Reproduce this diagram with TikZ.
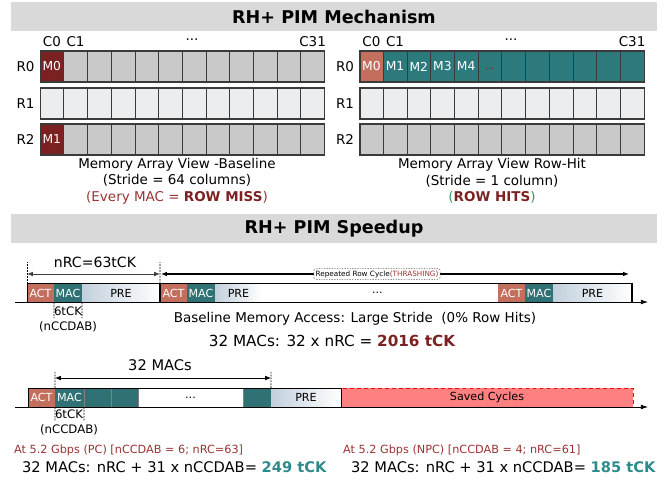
\documentclass[tikz,border=0pt]{standalone}
\usepackage{fontspec}
\setmainfont{DejaVu Sans}
\usepackage{xcolor}
\usetikzlibrary{arrows.meta, positioning, calc}
\definecolor{titlegray}{HTML}{D9D9D9}
\definecolor{cellgray}{HTML}{C9C9C9}
\definecolor{celllight}{HTML}{ECEDEF}
\definecolor{cellline}{HTML}{3A3A3A}
\definecolor{missred}{HTML}{7B2121}
\definecolor{txtred}{HTML}{9A3333}
\definecolor{actred}{HTML}{C46F5E}
\definecolor{arrteal}{HTML}{2D7A7D}
\definecolor{macteal}{HTML}{2F7175}
\definecolor{preblue}{HTML}{C2D0DD}
\definecolor{savedred}{HTML}{FF8080}
\definecolor{hitteal}{HTML}{2E8B8B}
\definecolor{hitgreen}{HTML}{3A9A5A}

\begin{document}
\begin{tikzpicture}[x=0.03cm, y=-0.03cm,
    titlebar/.style={fill=titlegray, minimum width=19.38cm, minimum height=0.87cm, inner sep=0pt, font=\fontsize{15}{17}\selectfont\bfseries},
    cell/.style={draw=cellline, line width=0.5pt, minimum width=0.711cm, minimum height=0.93cm, inner sep=0pt, font=\fontsize{10.5}{12}\selectfont, text=white},
    rowbox/.style={draw=cellline, line width=1.1pt, minimum width=8.532cm, minimum height=0.93cm, inner sep=0pt},
    hdr/.style={font=\fontsize{11.5}{13}\selectfont},
    caption/.style={font=\fontsize{11.5}{14}\selectfont, align=center},
    seg/.style={minimum height=0.57cm, inner sep=0pt, outer sep=0pt, anchor=west, font=\fontsize{9.5}{11}\selectfont},
    act/.style={seg, fill=actred, text=white, minimum width=0.81cm},
    mac/.style={seg, fill=macteal, text=white},
    pre/.style={seg, left color=preblue, right color=white},
    guide/.style={dash pattern=on 1.5pt off 1pt, line width=0.5pt},
    dim/.style={{Latex[length=5pt,width=4pt]}-{Latex[length=5pt,width=4pt]}, line width=0.7pt},
    note/.style={font=\fontsize{10}{12}\selectfont},
]
\useasboundingbox (0,0) rectangle (672,481);

% Mechanism
\node[titlebar] (mechbar) at (334,16.5) {RH+ PIM Mechanism};

% Left array - baseline
\foreach \r/\y/\fc in {0/66.5/cellgray, 1/103.5/celllight, 2/139.5/cellgray} {
    \foreach \c in {0,...,11}
        \node[cell, fill=\fc] (L\r-\c) at ({40+23.7*(\c+0.5)}, \y) {};
    \node[hdr] (lr\r) at (25.5, \y) {R\r};
}
\node[cell, fill=missred] (lm0) at (L0-0) {M0};
\node[cell, fill=missred] (lm1) at (L2-0) {M1};
\foreach \r in {0,1,2}
    \node[rowbox] (LR\r) at (L\r-0.west) [anchor=west] {};
\node[hdr] (lc0) at (L0-0 |- 0,42) {C0};
\node[hdr] (lc1) at (L0-1 |- 0,42) {C1};
\node[hdr] (lcdots) at (192,40) {...};
\node[hdr] (lc31) at (L0-11 |- 0,42) {C31};
\node[caption] (capL) at (177,181) {Memory Array View -Baseline\\(Stride = 64 columns)\\\textcolor{txtred}{(Every MAC = \textbf{\textcolor{missred}{ROW MISS}})}};

% Right array - row hit
\foreach \r/\y/\fc in {0/66.5/arrteal, 1/103.5/celllight, 2/139.5/cellgray} {
    \foreach \c in {0,...,11}
        \node[cell, fill=\fc] (R\r-\c) at ({359.5+23.7*(\c+0.5)}, \y) {};
    \node[hdr] (rr\r) at (345, \y) {R\r};
}
\node[cell, fill=actred] (rm0) at (R0-0) {M0};
\foreach \c in {1,...,4}
    \node[cell, draw=none] (rm\c) at (R0-\c) {M\c};
\node[font=\fontsize{8}{9}\selectfont, text=red!75!black] (rmdots) at ($(R0-5)+(0,2)$) {...};
\foreach \r in {0,1,2}
    \node[rowbox] (RR\r) at (R\r-0.west) [anchor=west] {};
\node[hdr] (rc0) at (R0-0 |- 0,42) {C0};
\node[hdr] (rc1) at (R0-1 |- 0,42) {C1};
\node[hdr] (rcdots) at (511,40) {...};
\node[hdr] (rc31) at (R0-11 |- 0,42) {C31};
\node[caption] (capR) at (492,181) {Memory Array View Row-Hit\\(Stride = 1 column)\\\textcolor{hitgreen}{(}\textbf{\textcolor{missred}{ROW HITS}}\textcolor{hitgreen}{)}};

% Speedup
\node[titlebar] (speedbar) at (334,228.5) {RH+ PIM Speedup};

% Baseline timeline
\node[act] (actA) at (27,293) {ACT};
\node[mac, minimum width=0.84cm, right=0pt of actA] (macA) {MAC};
\node[pre, minimum width=2.34cm, right=0pt of macA] (preA) {PRE};
\node[act, right=0pt of preA] (actB) {ACT};
\node[mac, minimum width=0.84cm, right=0pt of actB] (macB) {MAC};
\node[pre, minimum width=1.41cm, right=0pt of macB] (preB) {PRE};
\node[seg] (dotsA) at (372,293) {...};
\node[act] (actC) at (498,293) {ACT};
\node[mac, minimum width=0.84cm, right=0pt of actC] (macC) {MAC};
\node[pre, minimum width=2.37cm, right=0pt of macC] (preC) {PRE};
\draw[line width=0.6pt] (actA.south west) rectangle (preC.north east);
\draw[line width=1.2pt] (preA.north east) -- (preA.south east);
\draw[line width=1.2pt] (preC.north east) -- (preC.south east);
\coordinate (axA0) at (15,302);
\coordinate (axA1) at (648,302);
\draw[-{Latex[length=6pt,width=4pt]}, line width=0.6pt] (axA0) -- (axA1);

\coordinate (nrc0) at (27,262);
\coordinate (nrc1) at (160,262);
\draw[guide] (actA.north west) -- (nrc0);
\draw[guide] (preA.north east) -- (nrc1);
\draw[dim, black!75] (actA.north west |- 0,274) -- (preA.north east |- 0,274);
\node[font=\fontsize{12}{14}\selectfont] (nrc) at (95,262) {nRC=63tCK};
\coordinate (rep0) at (161,274);
\coordinate (rep1) at (629,274);
\draw[dim, line width=1.1pt] (rep0) -- (rep1);
\node[draw, densely dotted, rounded corners=2pt, fill=white, inner sep=1.5pt, font=\fontsize{6.2}{7}\selectfont] (repA) at (377,274) {Repeated Row Cycle\textcolor{txtred}{(THRASHING)}};

\coordinate (ccA0) at (54,318);
\coordinate (ccA1) at (82,318);
\draw[guide] (macA.south west) -- (ccA0);
\draw[guide] (macA.south east) -- (ccA1);
\node[note] (tckA) at (68,311) {6tCK};
\node[note] (ccdA) at (68,327) {(nCCDAB)};
\node[font=\fontsize{11.5}{13}\selectfont] (baseA) at (355,319) {Baseline Memory Access: Large Stride\ \ (0\% Row Hits)};
\node[font=\fontsize{13}{15}\selectfont] (sumA) at (332,341) {32 MACs: 32 x nRC = \textbf{\textcolor{missred}{2016 tCK}}};

% Row-hit timeline
\node[act] (actD) at (28,397.5) {ACT};
\node[mac, minimum width=0.87cm, right=0pt of actD] (macD) {MAC};
\node[mac, draw=gray, minimum width=0.81cm, right=0pt of macD] (tD1) {};
\node[mac, draw=gray, minimum width=0.81cm, right=0pt of tD1] (tD2) {};
\node[seg, draw=gray, fill=white, minimum width=3.15cm, right=0pt of tD2] (dotsB) {...};
\node[mac, draw=gray, minimum width=0.84cm, right=0pt of dotsB] (tD3) {};
\node[pre, minimum width=2.1cm, right=0pt of tD3] (preD) {PRE};
\node[seg, fill=savedred, draw=red, dashed, line width=0.8pt, minimum width=8.76cm, right=0pt of preD] (saved) {Saved Cycles};
\draw[line width=0.6pt] (actD.south west) rectangle (preD.north east);
\coordinate (axB0) at (15,407);
\coordinate (axB1) at (648,407);
\draw[-{Latex[length=6pt,width=4pt]}, line width=0.6pt] (axB0) -- (axB1);

\coordinate (mac0) at (55,372);
\coordinate (mac1) at (271,372);
\draw[guide] (macD.north west) -- (mac0);
\draw[guide] (tD3.north east) -- (mac1);
\draw[dim] (macD.north west |- 0,378) -- (tD3.north east |- 0,378);
\node[font=\fontsize{12.5}{14}\selectfont] (macs) at (160,365) {32 MACs};
\coordinate (ccB0) at (55,421);
\coordinate (ccB1) at (84,421);
\draw[guide] (macD.south west) -- (ccB0);
\draw[guide] (macD.south east) -- (ccB1);
\node[note] (tckB) at (69,414) {6tCK};
\node[note] (ccdB) at (69,430) {(nCCDAB)};

\node[anchor=west, text=txtred, font=\fontsize{9.6}{11}\selectfont] (pcA) at (10,450) {At 5.2 Gbps (PC) [nCCDAB = 6; nRC=63]};
\node[anchor=west, font=\fontsize{12.5}{14}\selectfont] (sumPC) at (18,467) {32 MACs: nRC + 31 x nCCDAB= \textbf{\textcolor{hitteal}{249 tCK}}};
\node[anchor=west, text=txtred, font=\fontsize{9.6}{11}\selectfont] (pcB) at (339,450) {At 5.2 Gbps (NPC) [nCCDAB = 4; nRC=61]};
\node[anchor=west, font=\fontsize{12.5}{14}\selectfont] (sumNPC) at (347,467) {32 MACs: nRC + 31 x nCCDAB= \textbf{\textcolor{hitteal}{185 tCK}}};
\end{tikzpicture}
\end{document}
